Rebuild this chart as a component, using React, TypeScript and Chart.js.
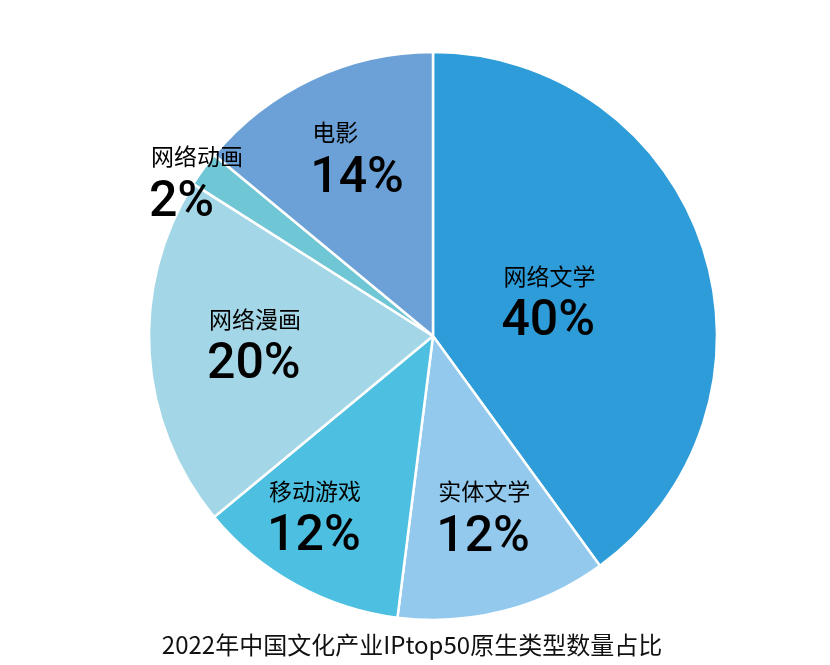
import React, { useEffect, useRef } from "react";
import { Chart, registerables } from "chart.js";

Chart.register(...registerables);

const categories = ["网络文学", "实体文学", "移动游戏", "网络漫画", "网络动画", "电影"];
const values = [40, 12, 12, 20, 2, 14];
const colors = ["#2E9CD9", "#92C9ED", "#4DBFE0", "#A3D6E6", "#6FC6D4", "#6BA1D6"];
// label block placement inside each slice: fraction along the slice angle, fraction of radius
const labelAngleFraction = [0.5, 0.454, 0.609, 0.528, 0.19, 0.56];
const labelRadiusFraction = [0.434, 0.65, 0.747, 0.624, 1.0, 0.69];
const titleText = "2022年中国文化产业IPtop50原生类型数量占比";

const FONT = '"Noto Sans CJK SC", "Noto Sans", sans-serif';
const NUM_FONT = 'Roboto, "Noto Sans CJK SC", sans-serif';

export default function App() {
  const ref = useRef<HTMLCanvasElement | null>(null);
  useEffect(() => {
    document.body.style.margin = "0";
    const labelPlugin = {
      id: "sliceLabels",
      afterDatasetsDraw(chart: any) {
        const ctx = chart.ctx;
        const meta = chart.getDatasetMeta(0);
        ctx.save();
        ctx.textAlign = "left";
        ctx.textBaseline = "middle";
        ctx.fillStyle = "#000";
        const nameFont = `400 23px ${FONT}`;
        const pctFont = `500 50px ${NUM_FONT}`;
        meta.data.forEach((arc: any, i: number) => {
          const { x, y, startAngle, endAngle, outerRadius } = arc.getProps(
            ["x", "y", "startAngle", "endAngle", "outerRadius"],
            true
          );
          const a = startAngle + (endAngle - startAngle) * labelAngleFraction[i];
          const r = outerRadius * labelRadiusFraction[i];
          const cx = x + Math.cos(a) * r;
          const cy = y + Math.sin(a) * r;
          const pct = `${values[i]}%`;
          ctx.font = nameFont;
          const w1 = ctx.measureText(categories[i]).width;
          ctx.font = pctFont;
          const w2 = ctx.measureText(pct).width;
          const left = cx - Math.max(w1, w2) / 2;
          ctx.font = nameFont;
          ctx.fillText(categories[i], left, cy - 22);
          ctx.font = pctFont;
          ctx.fillText(pct, left - 2, cy + 25);
        });
        ctx.restore();
      },
      afterDraw(chart: any) {
        const ctx = chart.ctx;
        ctx.save();
        ctx.textAlign = "center";
        ctx.textBaseline = "middle";
        ctx.fillStyle = "#111";
        ctx.font = `400 24px ${FONT}`;
        ctx.fillText(titleText, chart.width / 2 - 3, 645);
        ctx.restore();
      },
    };
    const chart = new Chart(ref.current as HTMLCanvasElement, {
      type: "pie",
      data: {
        labels: categories,
        datasets: [
          {
            data: values,
            backgroundColor: colors,
            borderColor: "#ffffff",
            borderWidth: 2.5,
          },
        ],
      },
      options: {
        responsive: false,
        animation: false,
        radius: 284,
        layout: { padding: { left: 36, right: 0, top: 7, bottom: 0 } },
        plugins: {
          legend: { display: false },
          tooltip: { enabled: false },
          title: { display: false },
        },
      } as any,
      plugins: [labelPlugin],
    });
    return () => chart.destroy();
  }, []);
  return (
    <div style={{ width: 830, height: 665 }}>
      <canvas ref={ref} width={830} height={665} style={{ display: "block" }} />
    </div>
  );
}
